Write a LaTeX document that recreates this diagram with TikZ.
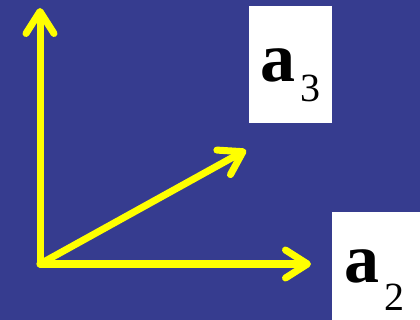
\documentclass[tikz,border=0pt]{standalone}
\usepackage{fontspec}
\setmainfont{Liberation Serif}
\usetikzlibrary{arrows.meta}
\definecolor{bgblue}{RGB}{54,60,143}
\definecolor{vecyellow}{RGB}{255,255,0}
\tikzset{
  vec/.style={draw=vecyellow, line width=7pt, line cap=round,
    -{Straight Barb[round, length=22pt, width=28pt]}},
  whitebox/.style={fill=white, draw=none, inner sep=0pt, anchor=north west},
  bigletter/.style={anchor=base west, inner sep=0pt, font=\fontsize{70}{70}\selectfont\bfseries},
  subnum/.style={anchor=base west, inner sep=0pt, font=\fontsize{40}{40}\selectfont}
}
\begin{document}
\begin{tikzpicture}[x=1pt,y=-1pt]
\fill[bgblue] (0,0) rectangle (420,320);
\useasboundingbox (0,0) rectangle (420,320);
\node[whitebox, minimum width=83pt, minimum height=117pt] (box3) at (249,6) {};
\node[whitebox, minimum width=88pt, minimum height=108pt] (box2) at (332,212) {};
\node[bigletter] (a3) at (260,82) {a};
\node[subnum] (s3) at (300,102) {3};
\node[bigletter] (a2) at (344,282) {a};
\node[subnum] (s2) at (384,310) {2};
\coordinate (o) at (40,264);
\coordinate (t1) at (40,8);
\coordinate (t2) at (311,264);
\coordinate (t3) at (246,150);
\draw[vec] (o) -- (t1);
\draw[vec] (o) -- (t2);
\draw[vec] (o) -- (t3);
\end{tikzpicture}
\end{document}
